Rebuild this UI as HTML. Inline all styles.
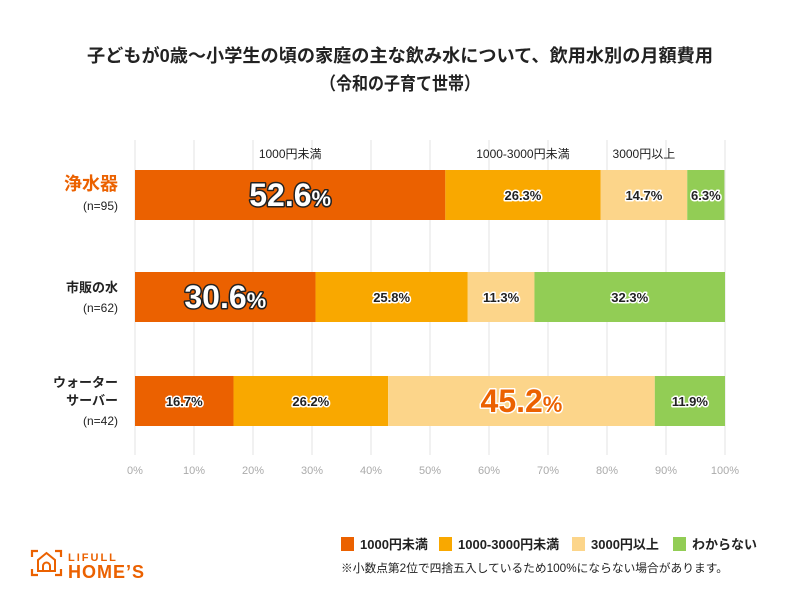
<!DOCTYPE html>
<html><head><meta charset="utf-8">
<style>
html,body{margin:0;padding:0;background:#fff;}
svg{display:block;font-family:"Liberation Sans","Noto Sans CJK JP",sans-serif;}
</style></head>
<body>
<svg id="chart" width="800" height="600" viewBox="0 0 800 600" xmlns="http://www.w3.org/2000/svg">
<rect width="800" height="600" fill="#fff"/>
<text x="400" y="62" text-anchor="middle" font-size="18" font-weight="bold" fill="#222" textLength="626" lengthAdjust="spacingAndGlyphs">子どもが0歳～小学生の頃の家庭の主な飲み水について、飲用水別の月額費用</text>
<text x="400" y="90" text-anchor="middle" font-size="18" font-weight="bold" fill="#222" textLength="160" lengthAdjust="spacingAndGlyphs">（令和の子育て世帯）</text>
<g id="grid"></g>
<g id="bars"></g>
<g id="labels"></g>
<g id="ticks"></g>
<g id="legend">
  <rect x="341" y="537" width="13" height="14" fill="#EB6100"/>
  <text x="360" y="549" font-size="13" font-weight="bold" fill="#222">1000円未満</text>
  <rect x="439" y="537" width="13" height="14" fill="#F9A800"/>
  <text x="458" y="549" font-size="13" font-weight="bold" fill="#222">1000-3000円未満</text>
  <rect x="572" y="537" width="13" height="14" fill="#FCD58A"/>
  <text x="591" y="549" font-size="13" font-weight="bold" fill="#222">3000円以上</text>
  <rect x="673" y="537" width="13" height="14" fill="#92CD55"/>
  <text x="692" y="549" font-size="13" font-weight="bold" fill="#222">わからない</text>
</g>
<text x="341" y="572" font-size="11.5" fill="#222" textLength="387" lengthAdjust="spacingAndGlyphs">※小数点第2位で四捨五入しているため100%にならない場合があります。</text>
<g>
  <path d="M32 557 v-6 h6 M55 551 h6 v6 M32 569 v6 h6 M55 575 h6 v-6" stroke="#EB6100" stroke-width="2.2" fill="none"/>
  <path d="M38 571 v-11 l8.5 -7 l8.5 7 v11 z M43 571 v-5 a3.5 3.5 0 0 1 7 0 v5" stroke="#EB6100" stroke-width="2" fill="none"/>
  <text x="68" y="561" font-size="11" font-weight="bold" fill="#EB6100" letter-spacing="2">LIFULL</text>
  <text x="68" y="578" font-size="18" font-weight="bold" fill="#EB6100" letter-spacing="1">HOME’S</text>
</g>
</svg>
<script>
const categories = ["浄水器", "市販の水", "ウォーター\nサーバー"];
const sampleSizes = ["(n=95)", "(n=62)", "(n=42)"];
const seriesNames = ["1000円未満", "1000-3000円未満", "3000円以上", "わからない"];
const seriesUnder1000 = [52.6, 30.6, 16.7];
const series1000to3000 = [26.3, 25.8, 26.2];
const seriesOver3000 = [14.7, 11.3, 45.2];
const seriesUnknown = [6.3, 32.3, 11.9];
const tickLabels = ["0%","10%","20%","30%","40%","50%","60%","70%","80%","90%","100%"];
const tickValues = [0,10,20,30,40,50,60,70,80,90,100];

const NS = "http://www.w3.org/2000/svg";
const colors = ["#EB6100", "#F9A800", "#FCD58A", "#92CD55"];
const allSeries = [seriesUnder1000, series1000to3000, seriesOver3000, seriesUnknown];
const x0 = 135, x1 = 725;
function xScale(v){ return x0 + (x1 - x0) * v / 100; }
const barTop = [170, 272, 376], barH = 50;
function yScale(i){ return barTop[i]; }

function mk(tag, attrs, parent, text){
  const e = document.createElementNS(NS, tag);
  for (const k in attrs) e.setAttribute(k, attrs[k]);
  if (text !== undefined) e.textContent = text;
  parent.appendChild(e);
  return e;
}
const grid = document.getElementById("grid");
const bars = document.getElementById("bars");
const labels = document.getElementById("labels");
const ticks = document.getElementById("ticks");

tickValues.forEach((t, i) => {
  const l = mk("line", {x1: xScale(t), x2: xScale(t), y1: 140, y2: 455, stroke: "#e3e3e3", "stroke-width": 1}, grid);
  
  
  const tx = mk("text", {x: xScale(t), y: 474, "text-anchor": "middle", "font-size": 11, fill: "#aaa"}, ticks, tickLabels[i]);
  
  
});

categories.forEach((c, i) => {
  let cum = 0;
  allSeries.forEach((s, si) => {
    const v = s[i];
    const xa = xScale(cum), xb = xScale(cum + v);
    const r = mk("rect", {x: xa, y: yScale(i), width: xb - xa, height: barH, fill: colors[si]}, bars);
    
    
    const cx = (xa + xb) / 2, cy = yScale(i) + barH / 2;
    const big = (si === 0 && i < 2) || (si === 2 && i === 2);
    let t;
    if (big) {
      const fill = si === 0 ? "#fff" : "#EB6100";
      const stroke = si === 0 ? "#222" : "#fff";
      t = mk("text", {x: cx, y: cy + 11, "text-anchor": "middle", "font-size": 32, "font-weight": "bold", fill: fill, stroke: stroke, "stroke-width": 3, "paint-order": "stroke", "stroke-linejoin": "round"}, labels);
      mk("tspan", {}, t, v.toFixed(1));
      mk("tspan", {"font-size": 22}, t, "%");
    } else {
      t = mk("text", {x: cx, y: cy + 5, "text-anchor": "middle", "font-size": 13, "font-weight": "bold", fill: "#222", stroke: "#fff", "stroke-width": 3, "paint-order": "stroke", "stroke-linejoin": "round"}, labels, v.toFixed(1) + "%");
    }
    
    
    if (i === 0 && si < 3) {
      const a = mk("text", {x: cx, y: 158, "text-anchor": "middle", "font-size": 12, fill: "#222"}, labels, seriesNames[si]);
      
      
    }
    cum += v;
  });
  const lines = c.split("\n");
  const cy = yScale(i) + barH / 2;
  const first = i === 0;
  const n = lines.length;
  const startY = cy - (n - 1) * 18 / 2 - 1;
  lines.forEach((ln, li) => {
    const ct = mk("text", {x: 118, y: startY + li * 18 - 4, "text-anchor": "end", "font-size": first ? 18 : 13, "font-weight": "bold", fill: first ? "#EB6100" : "#222"}, labels, ln);
    
    
  });
  const nt = mk("text", {x: 118, y: startY + (n - 1) * 18 + 16, "text-anchor": "end", "font-size": 12, fill: "#222"}, labels, sampleSizes[i]);
  
  
});
</script>
</body></html>
